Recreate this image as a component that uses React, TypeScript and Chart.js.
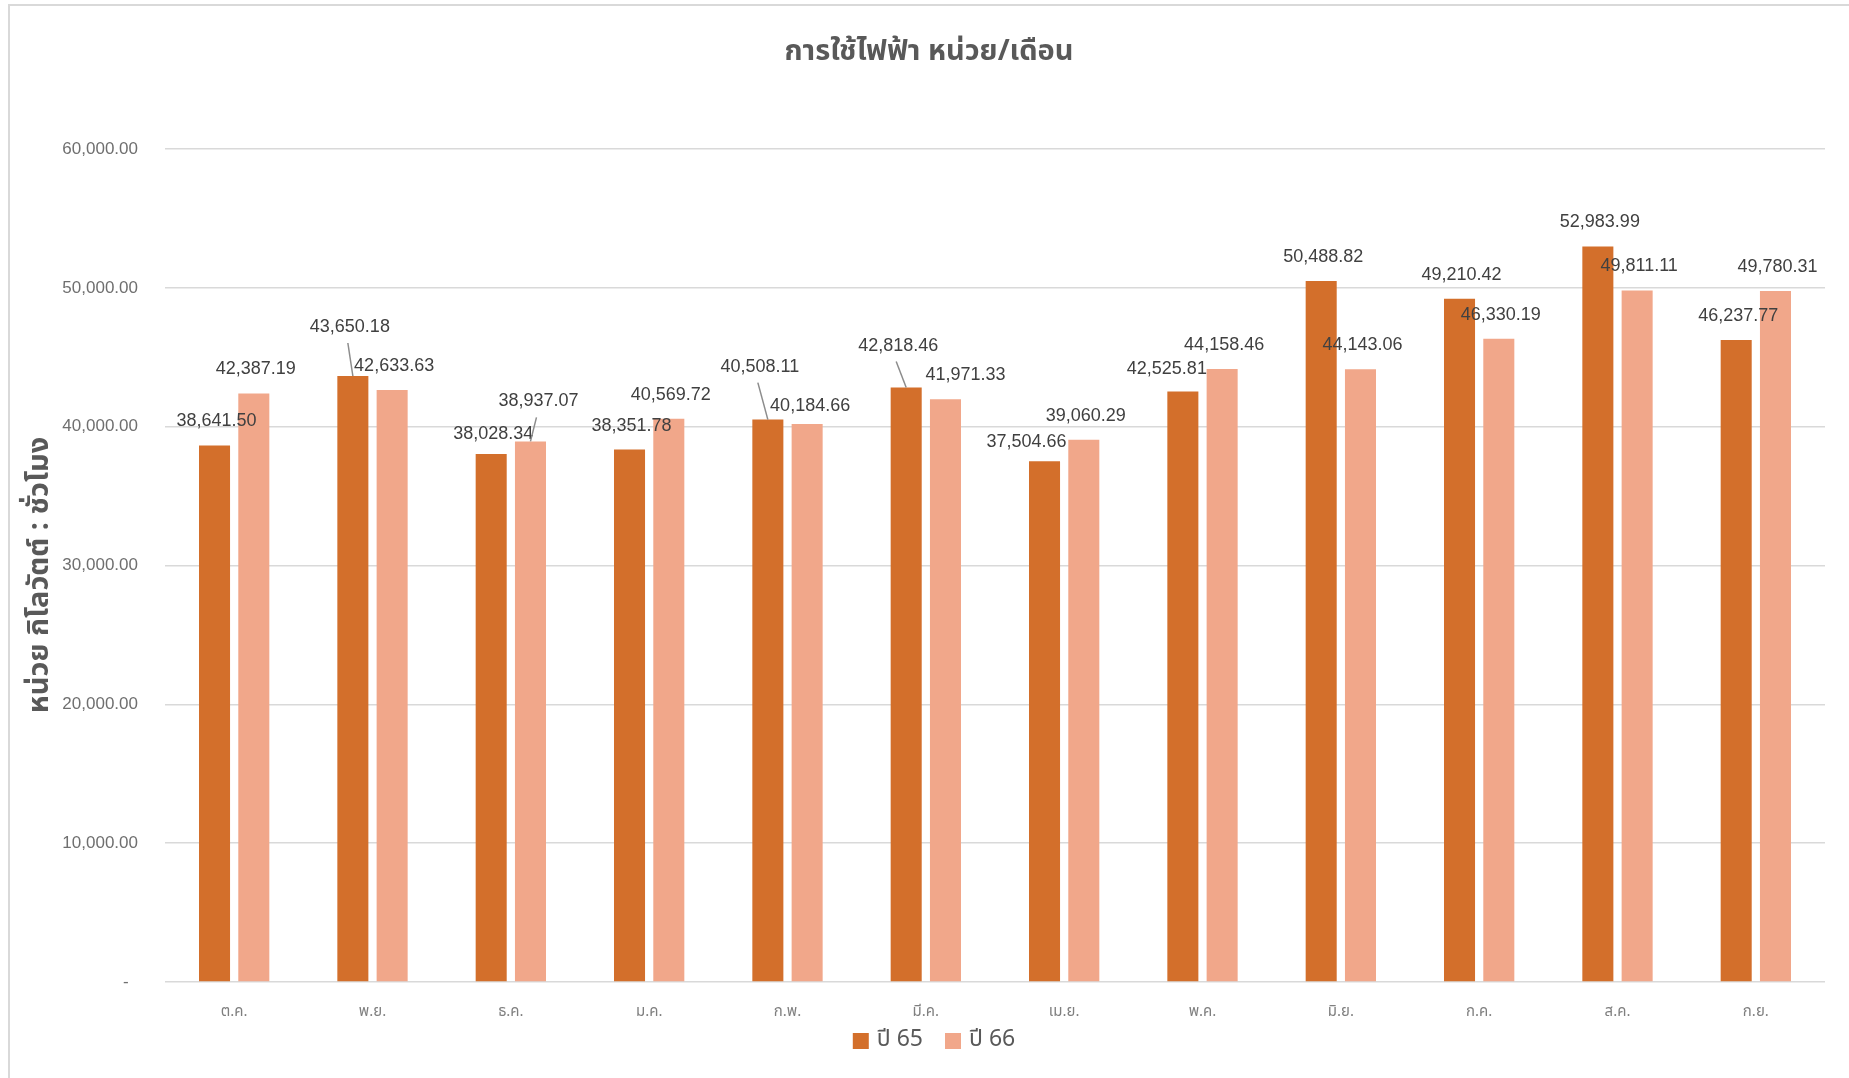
import React, { useEffect, useRef } from "react";
import { Chart, registerables } from "chart.js";
Chart.register(...registerables);

// ---- data ----
const months = ["ต.ค.", "พ.ย.", "ธ.ค.", "ม.ค.", "ก.พ.", "มี.ค.", "เม.ย.", "พ.ค.", "มิ.ย.", "ก.ค.", "ส.ค.", "ก.ย."];
const year65 = [38641.5, 43650.18, 38028.34, 38351.78, 40508.11, 42818.46, 37504.66, 42525.81, 50488.82, 49210.42, 52983.99, 46237.77];
const year66 = [42387.19, 42633.63, 38937.07, 40569.72, 40184.66, 41971.33, 39060.29, 44158.46, 44143.06, 46330.19, 49811.11, 49780.31];
const seriesNames = ["ปี 65", "ปี 66"];
const yMin = 0;
const yMax = 60000;
const yStep = 10000;
const chartTitle = "การใช้ไฟฟ้า หน่วย/เดือน";
const yAxisTitle = "หน่วย กิโลวัตต์ : ชั่วโมง";

// ---- label placement (style only: offsets from the bar top) ----
type Off = { dx: number; dy: number; leader?: boolean };
const D: Off = { dx: 2, dy: -24 };
const labelOffsets65: Off[] = [D, { dx: -3, dy: -49, leader: true }, { dx: 2, dy: -20 }, D, { dx: -8, dy: -53, leader: true }, { dx: -8, dy: -42, leader: true }, { dx: -18, dy: -19 }, { dx: -16, dy: -23 }, D, D, D, D];
const labelOffsets66: Off[] = [D, D, { dx: 8, dy: -40, leader: true }, D, { dx: 3, dy: -18 }, { dx: 20, dy: -24 }, D, D, D, D, D, D];

const COLORS = ["#D36F2B", "#F1A78A"];
const FONT = "'Noto Sans Thai', 'Leelawadee UI', Tahoma, 'Noto Sans', 'DejaVu Sans', sans-serif";
const NUMFONT = "'Liberation Sans', 'Noto Sans', sans-serif";

const fmt = (v: number) => v.toLocaleString("en-US", { minimumFractionDigits: 2, maximumFractionDigits: 2 });

const decorPlugin = {
  id: "decor",
  beforeDraw(chart: any) {
    const ctx = chart.ctx;
    ctx.save();
    ctx.fillStyle = "#ffffff";
    ctx.fillRect(0, 0, chart.width, chart.height);
    ctx.strokeStyle = "#d9d9d9";
    ctx.lineWidth = 2;
    ctx.beginPath();
    ctx.moveTo(9, chart.height);
    ctx.lineTo(9, 5);
    ctx.lineTo(chart.width, 5);
    ctx.stroke();
    ctx.restore();
  },
  afterDatasetsDraw(chart: any) {
    const ctx = chart.ctx;
    ctx.save();
    ctx.font = `18px ${NUMFONT}`;
    ctx.fillStyle = "#404040";
    ctx.textAlign = "center";
    ctx.textBaseline = "middle";
    const offs = [labelOffsets65, labelOffsets66];
    chart.data.datasets.forEach((ds: any, di: number) => {
      const meta = chart.getDatasetMeta(di);
      meta.data.forEach((el: any, i: number) => {
        const o = offs[di][i];
        const lx = el.x + o.dx;
        const ly = el.y + o.dy;
        if (o.leader) {
          ctx.strokeStyle = "#8c8c8c";
          ctx.lineWidth = 1.5;
          ctx.beginPath();
          ctx.moveTo(lx - 2, ly + 16);
          ctx.lineTo(el.x, el.y);
          ctx.stroke();
        }
        ctx.fillText(fmt(ds.data[i]), lx, ly);
      });
    });
    ctx.restore();
  },
  afterDraw(chart: any) {
    const ctx = chart.ctx;
    ctx.save();
    // title
    ctx.fillStyle = "#595959";
    ctx.font = `bold 29px ${FONT}`;
    ctx.textAlign = "center";
    ctx.textBaseline = "middle";
    ctx.fillText(chartTitle, 929, 54);
    // y-axis title
    ctx.save();
    ctx.translate(42, 575);
    ctx.rotate(-Math.PI / 2);
    ctx.font = `bold 29px ${FONT}`;
    ctx.fillText(yAxisTitle, 0, 0);
    ctx.restore();
    // legend
    ctx.font = `23px ${FONT}`;
    ctx.textAlign = "left";
    const box = 16, gapBox = 8, gapItem = 22;
    const widths = seriesNames.map((n) => box + gapBox + ctx.measureText(n).width);
    const total = widths.reduce((a, b) => a + b, 0) + gapItem * (seriesNames.length - 1);
    let x = 934 - total / 2;
    const y = 1041;
    seriesNames.forEach((n, i) => {
      ctx.fillStyle = COLORS[i];
      ctx.fillRect(x, y - box / 2, box, box);
      ctx.fillStyle = "#595959";
      ctx.fillText(n, x + box + gapBox, y);
      x += widths[i] + gapItem;
    });
    ctx.restore();
  },
};

export default function App() {
  const ref = useRef<HTMLCanvasElement | null>(null);
  useEffect(() => {
    document.body.style.margin = "0";
    const chart = new Chart(ref.current as HTMLCanvasElement, {
      type: "bar",
      data: {
        labels: months,
        datasets: [
          { label: seriesNames[0], data: year65, backgroundColor: COLORS[0], categoryPercentage: 0.568, barPercentage: 0.79 },
          { label: seriesNames[1], data: year66, backgroundColor: COLORS[1], categoryPercentage: 0.568, barPercentage: 0.79 },
        ],
      },
      options: {
        animation: false,
        responsive: false,
        devicePixelRatio: 1,
        layout: { padding: { left: 0, right: 24, top: 149, bottom: 0 } },
        plugins: { legend: { display: false }, title: { display: false }, tooltip: { enabled: false } },
        scales: {
          x: {
            grid: { display: false, drawTicks: false },
            border: { display: false },
            ticks: { color: "#7f7f7f", font: { family: FONT, size: 15 }, padding: 22, maxRotation: 0, autoSkip: false },
            afterFit: (s: any) => { s.height = 96; },
          },
          y: {
            min: yMin,
            max: yMax,
            grid: { color: "#d9d9d9", lineWidth: 1.5, drawTicks: false },
            border: { display: false },
            ticks: {
              stepSize: yStep,
              color: "#6f6f6f",
              font: { family: NUMFONT, size: 17 },
              padding: 27,
              callback: (v: any) => (Number(v) === 0 ? "-  " : fmt(Number(v))),
            },
            afterFit: (s: any) => { s.width = 165; },
          },
        },
      },
      plugins: [decorPlugin],
    });
    return () => chart.destroy();
  }, []);
  return (
    <div style={{ position: "absolute", left: 0, top: 0, width: 1849, height: 1078 }}>
      <canvas ref={ref} width={1849} height={1078} />
    </div>
  );
}
